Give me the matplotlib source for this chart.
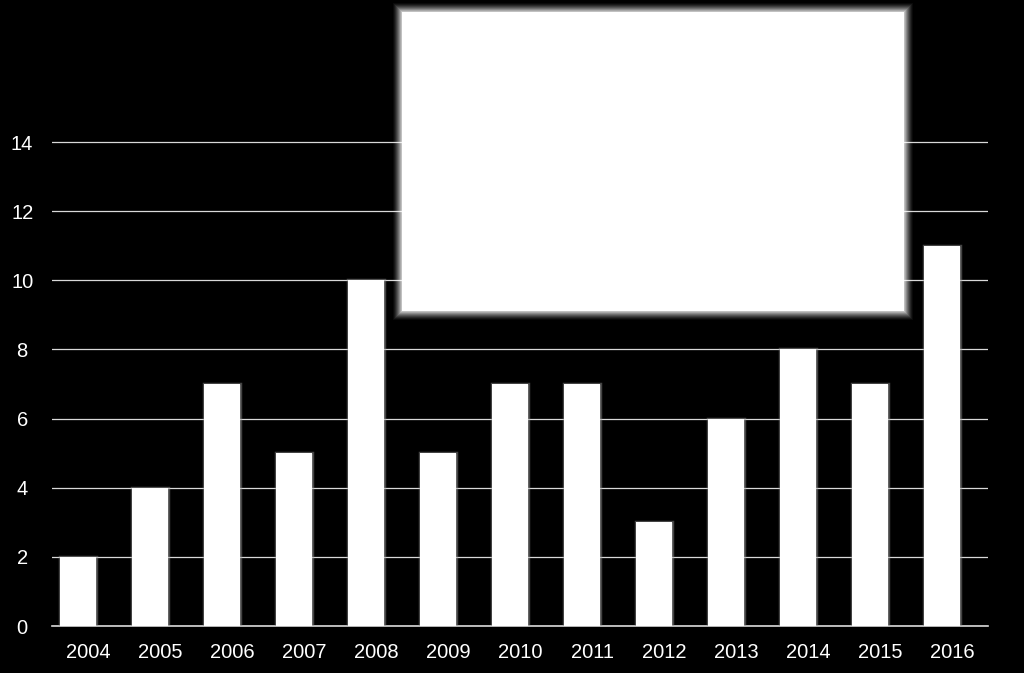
import matplotlib
matplotlib.use("Agg")
import matplotlib.pyplot as plt
from matplotlib.patches import Rectangle
import matplotlib.patheffects as pe

years = ["2004", "2005", "2006", "2007", "2008", "2009", "2010",
         "2011", "2012", "2013", "2014", "2015", "2016"]
counts = [2, 4, 7, 5, 10, 5, 7, 7, 3, 6, 8, 7, 11]
yticks = [0, 2, 4, 6, 8, 10, 12, 14]

plt.rcParams['font.family'] = ['Liberation Sans', 'DejaVu Sans']

W, H = 1024, 673
fig = plt.figure(figsize=(W / 100, H / 100), dpi=100, facecolor='black')
left, right = 52, 988
bottom, top = 626, 12
ax = fig.add_axes([left / W, 1 - bottom / H, (right - left) / W, (bottom - top) / H])
ax.set_facecolor('black')

ymax = 14 * (bottom - top) / (bottom - 142)
ax.set_ylim(0, ymax)
ax.set_xlim(-0.5, len(years) - 0.5)

ax.set_yticks(yticks)
ax.yaxis.grid(True, color='#d9d9d9', linewidth=0.9)
ax.set_axisbelow(True)

x = list(range(len(years)))
xb = [i - 0.14 for i in x]
bars = ax.bar(xb, counts, width=0.5, color='white', zorder=3)
for b in bars:
    b.set_path_effects([pe.Stroke(linewidth=2.5, foreground='#999999', alpha=0.45), pe.Normal()])

ax.set_xticks(x)
ax.set_xticklabels(years)
ax.tick_params(axis='both', colors='white', labelsize=14.5, length=0)
ax.tick_params(axis='y', pad=21.5)
ax.tick_params(axis='x', pad=12)
for lab in ax.get_yticklabels():
    lab.set_horizontalalignment('center')

for s in ['top', 'right', 'left']:
    ax.spines[s].set_visible(False)
ax.spines['bottom'].set_color('#d9d9d9')
ax.spines['bottom'].set_linewidth(1.2)

# white box with glow
bx0, bx1, by0, by1 = 402, 904, 12, 311
for i, a in zip(range(9, 0, -1), [0.04, 0.06, 0.08, 0.1, 0.12, 0.15, 0.2, 0.25, 0.3]):
    fig.patches.append(Rectangle(((bx0 - i) / W, 1 - (by1 + i) / H),
                                 (bx1 - bx0 + 2 * i) / W, (by1 - by0 + 2 * i) / H,
                                 transform=fig.transFigure, facecolor='white',
                                 alpha=a, edgecolor='none', zorder=10))
fig.patches.append(Rectangle((bx0 / W, 1 - by1 / H), (bx1 - bx0) / W, (by1 - by0) / H,
                             transform=fig.transFigure, facecolor='white',
                             edgecolor='none', zorder=11))

fig.savefig('out.png', dpi=100, facecolor='black')
